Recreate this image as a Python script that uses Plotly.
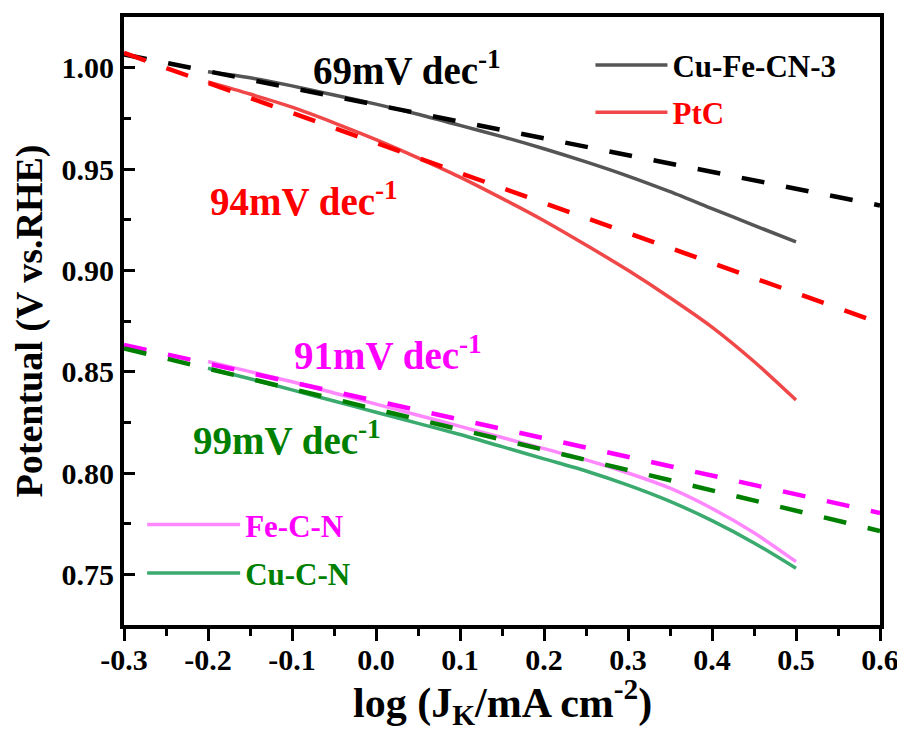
import plotly.graph_objects as go

# ---------------- data ----------------
x_curve = [-0.2, -0.15, -0.1, -0.05, 0.0, 0.05, 0.1, 0.15, 0.2, 0.25, 0.3, 0.35, 0.4, 0.45, 0.5]
cufecn3 = [0.998, 0.995, 0.991, 0.9865, 0.982, 0.977, 0.9715, 0.966, 0.960, 0.9535, 0.9465, 0.9388, 0.9305, 0.9222, 0.914]
ptc     = [0.993, 0.987, 0.9805, 0.9728, 0.9645, 0.9555, 0.946, 0.9355, 0.9245, 0.9125, 0.900, 0.8865, 0.872, 0.855, 0.836]
fecn    = [0.855, 0.850, 0.845, 0.8395, 0.834, 0.8285, 0.823, 0.8175, 0.812, 0.8065, 0.800, 0.7925, 0.7825, 0.7705, 0.7563]
cucn    = [0.8517, 0.8465, 0.841, 0.8355, 0.830, 0.8245, 0.819, 0.813, 0.807, 0.801, 0.794, 0.786, 0.7765, 0.7655, 0.753]

x_fit = [-0.3, 0.6]
fit_cufecn3 = [1.0065, 0.932]
fit_ptc     = [1.0073, 0.874]
fit_fecn    = [0.8632, 0.7803]
fit_cucn    = [0.8615, 0.7714]

series_names = ["Cu-Fe-CN-3", "PtC", "Fe-C-N", "Cu-C-N"]
tafel_labels = ["69mV dec<sup>-1</sup>", "94mV dec<sup>-1</sup>", "91mV dec<sup>-1</sup>", "99mV dec<sup>-1</sup>"]
label_pos_x = [-0.077, -0.2, -0.1, -0.22]
label_pos_y = [1.0, 0.935, 0.859, 0.8175]

x_ticks = [-0.3, -0.2, -0.1, 0.0, 0.1, 0.2, 0.3, 0.4, 0.5, 0.6]
x_ticktext = ["-0.3", "-0.2", "-0.1", "0.0", "0.1", "0.2", "0.3", "0.4", "0.5", "0.6"]
y_ticks = [0.75, 0.80, 0.85, 0.90, 0.95, 1.00]
y_ticktext = ["0.75", "0.80", "0.85", "0.90", "0.95", "1.00"]
x_title = "log (J<sub>K</sub>/mA cm<sup>-2</sup>)"
y_title = "Potentual (V vs.RHE)"

# ---------------- styles ----------------
solid_colors = ["#555555", "#f04848", "#ff88ff", "#3aaa6e"]
fit_colors = ["#000000", "#ff0000", "#ff00ff", "#008000"]
text_colors = ["#000000", "#ff0000", "#ff00ff", "#008000"]
legend_ids = ["legend", "legend", "legend2", "legend2"]
FONT = "Liberation Serif"

curves = [cufecn3, ptc, fecn, cucn]
fits = [fit_cufecn3, fit_ptc, fit_fecn, fit_cucn]

fig = go.Figure()
for i in range(4):
    fig.add_trace(go.Scatter(
        x=x_curve, y=curves[i], mode="lines",
        line=dict(color=solid_colors[i], width=3.5, shape="spline", smoothing=0.8),
        name=f"<span style='color:{text_colors[i]}'>{series_names[i]}</span>",
        legend=legend_ids[i], legendgroup=f"g{i}", showlegend=True,
    ))
for i in range(4):
    fig.add_trace(go.Scatter(
        x=x_fit, y=fits[i], mode="lines",
        line=dict(color=fit_colors[i], width=4.5, dash="23px,22px"),
        showlegend=False,
    ))

for i in range(4):
    fig.add_annotation(
        x=label_pos_x[i], y=label_pos_y[i], xref="x", yref="y",
        text=tafel_labels[i], showarrow=False, xanchor="left", yanchor="middle",
        font=dict(family=FONT, size=39, color=text_colors[i], weight=700),
    )

# x-axis title placed as a paper-anchored annotation below the tick labels
fig.add_annotation(
    x=0.5, y=0, xref="paper", yref="paper", yshift=-77,
    text=x_title, showarrow=False, xanchor="center", yanchor="middle",
    font=dict(family=FONT, size=42, color="black", weight=700),
)

axis_common = dict(
    showline=True, linewidth=4, linecolor="black", mirror=True,
    showgrid=False, zeroline=False, tickcolor="black", tickwidth=3,
    automargin=False,
    tickfont=dict(family=FONT, size=30, color="black", weight=700),
)

fig.update_xaxes(
    range=[-0.3, 0.6], tickvals=x_ticks, ticktext=x_ticktext,
    ticks="outside", ticklen=12, ticklabelstandoff=-7,
    minor=dict(tickvals=[-0.25, -0.15, -0.05, 0.05, 0.15, 0.25, 0.35, 0.45, 0.55],
               ticks="outside", ticklen=7, tickwidth=3, tickcolor="black"),
    **axis_common,
)
fig.update_yaxes(
    range=[0.725, 1.025], tickvals=y_ticks, ticktext=y_ticktext,
    ticks="inside", ticklen=11,
    minor=dict(tickvals=[0.775, 0.825, 0.875, 0.925, 0.975],
               ticks="inside", ticklen=7, tickwidth=3, tickcolor="black"),
    title=dict(text=y_title,
               font=dict(family=FONT, size=38, color="black", weight=700), standoff=10),
    **axis_common,
)

# page body has an 8px margin; size the figure so that the plot lands where the reference has it
fig.update_layout(
    width=897, height=732,
    margin=dict(l=116, r=25, t=9, b=115),
    plot_bgcolor="white", paper_bgcolor="white",
    font=dict(family=FONT, weight=700),
    legend=dict(x=0.617, y=0.965, xanchor="left", yanchor="top",
                bgcolor="rgba(0,0,0,0)", itemwidth=72, tracegroupgap=4,
                traceorder="grouped",
                font=dict(family=FONT, size=31, weight=700)),
    legend2=dict(x=0.024, y=0.209, xanchor="left", yanchor="top",
                 bgcolor="rgba(0,0,0,0)", itemwidth=93, tracegroupgap=5,
                 traceorder="grouped",
                 font=dict(family=FONT, size=31, weight=700)),
)

fig.write_html("out.html")
